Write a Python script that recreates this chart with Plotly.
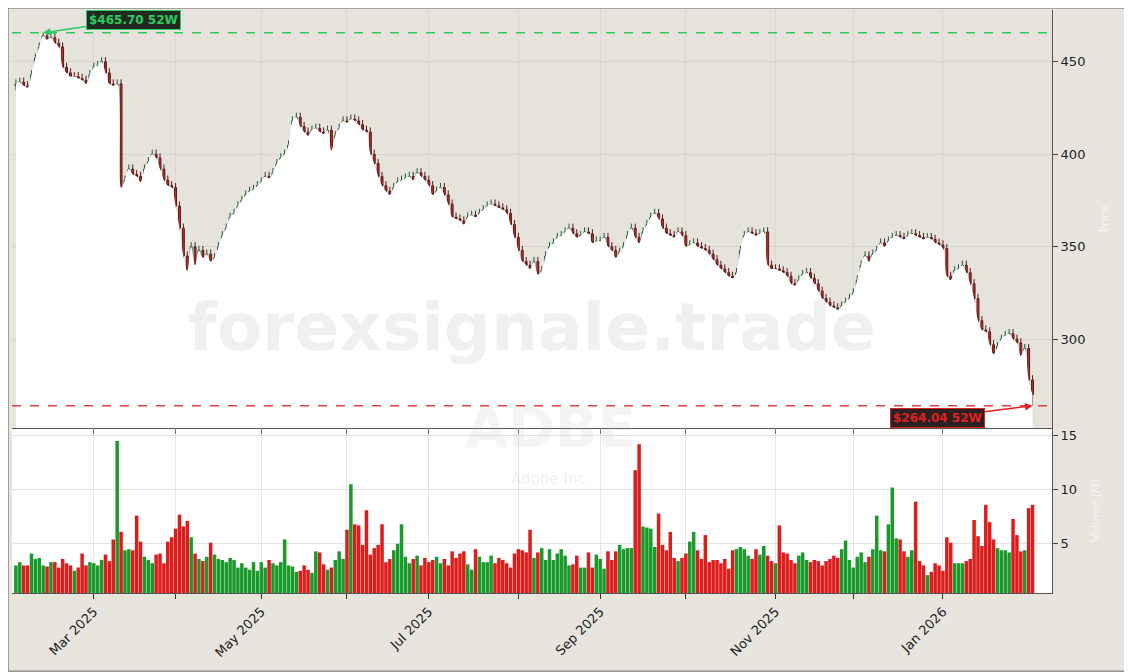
import pandas as pd
import plotly.graph_objects as go
from plotly.subplots import make_subplots

close_feb25 = [438,439,437,436,443,452,458,464,462,463,460,458,447,444,442,442,441,440,438,443]
close_mar25 = [447,448,450,444,438,437,438,382,386,392,389,388,385,392,396,400,398,392,386,383,382]
close_apr25 = [372,360,345,337,350,340,348,344,346,342,344,350,356,360,366,368,372,375,378,380,381,383]
close_may25 = [385,388,387,390,395,398,400,405,418,420,415,412,410,413,414,412,411,413,402,410,414,418]
close_jun25 = [417,419,418,416,413,412,400,395,388,383,380,378,382,385,386,387,388,386,390,388,386]
close_jul25 = [383,378,380,382,378,373,366,365,364,362,366,367,366,368,370,372,373,372,371,370,368,362,355]
close_aug25 = [348,342,340,338,342,335,337,345,350,352,355,356,358,360,357,355,356,358,357,352,353]
close_sep25 = [353,355,350,348,344,347,350,356,360,355,352,358,362,366,368,365,360,357,356,355,358,356]
close_oct25 = [350,351,352,350,349,348,346,343,340,338,336,334,333,336,348,356,358,357,356,357,358,340,338]
close_nov25 = [338,337,336,334,330,329,332,335,336,333,330,326,322,320,318,317,316,318,320,322]
close_dec25 = [325,332,340,345,342,346,348,352,350,353,355,356,355,354,356,357,356,355,354,355,354,352,351]
close_jan26 = [349,334,332,337,338,340,336,330,322,310,305,304,297,292,296,300,302,303,300,298,291,295]
close_feb26 = [278,270]

vol_feb25 = [3.0,3.3,3.0,3.0,4.1,3.6,3.7,3.0,2.9,3.3,3.3,2.8,3.6,3.2,3.0,2.5,2.8,4.1,3.0,3.3]
vol_mar25 = [3.2,3.0,3.5,4.0,3.4,5.4,14.5,6.1,4.4,4.5,4.4,7.6,5.2,3.8,3.5,3.2,4.0,4.1,3.2,5.2,5.6]
vol_apr25 = [6.4,7.7,6.6,7.1,5.6,4.1,3.6,3.4,3.8,5.1,4.0,3.6,3.5,3.3,3.7,3.5,2.8,3.2,2.8,2.6,3.3,2.5]
vol_may25 = [3.3,2.8,3.5,3.2,3.0,3.3,5.4,3.0,2.9,2.4,2.5,3.0,2.6,2.3,4.3,4.2,3.1,2.6,2.8,3.5,4.3,3.6]
vol_jun25 = [6.3,10.5,6.8,6.7,4.9,8.1,4.0,4.6,4.9,6.8,3.3,3.6,4.4,5.0,6.8,3.8,3.2,3.6,3.9,3.0,3.7]
vol_jul25 = [3.3,3.5,3.8,3.2,3.6,3.0,4.3,3.7,4.1,4.3,3.1,2.6,4.5,3.8,3.3,3.3,3.9,3.2,3.7,3.5,3.2,2.8,4.1]
vol_aug25 = [4.5,4.4,4.2,6.3,3.7,4.2,4.6,3.5,4.5,3.5,4.1,4.5,3.9,3.0,3.1,3.9,2.8,2.8,4.2,2.8,4.0]
vol_sep25 = [3.6,2.7,4.3,3.5,4.3,4.9,4.5,4.6,4.6,11.8,14.2,6.6,6.5,6.4,4.7,7.8,4.9,4.4,6.1,3.7,3.4,3.7]
vol_oct25 = [4.1,5.2,6.1,4.4,3.6,5.8,3.3,3.5,3.5,3.2,3.6,2.7,4.4,4.5,4.7,4.5,3.9,3.6,4.5,4.0,4.8,3.9,3.4]
vol_nov25 = [3.2,6.7,4.2,4.1,3.5,3.2,3.9,4.2,3.5,3.3,3.5,3.4,3.0,3.4,3.6,3.9,3.7,4.5,5.3,3.5]
vol_dec25 = [2.8,3.8,4.2,3.3,3.8,4.5,7.6,4.4,4.3,6.8,10.2,5.5,5.4,4.3,3.8,4.4,8.9,3.4,3.0,2.1,2.4,3.2,3.0]
vol_jan26 = [2.5,5.6,5.1,3.2,3.2,3.2,3.4,3.6,7.2,5.7,4.8,8.6,7.0,5.4,4.6,4.4,4.4,4.2,7.3,5.8,4.3,4.4]
vol_feb26 = [8.3,8.6]

high_52w = 465.70
low_52w = 264.04

close = (close_feb25 + close_mar25 + close_apr25 + close_may25 + close_jun25 + close_jul25 +
         close_aug25 + close_sep25 + close_oct25 + close_nov25 + close_dec25 + close_jan26 + close_feb26)
volume = (vol_feb25 + vol_mar25 + vol_apr25 + vol_may25 + vol_jun25 + vol_jul25 +
          vol_aug25 + vol_sep25 + vol_oct25 + vol_nov25 + vol_dec25 + vol_jan26 + vol_feb26)
n = min(len(close), len(volume))
close = close[:n]; volume = volume[:n]
dates = pd.bdate_range("2025-02-03", periods=n)

opens = [close[0] - 1] + close[:-1]
highs = [max(o, c) + 2.5 for o, c in zip(opens, close)]
lows = [min(o, c) - 2.5 for o, c in zip(opens, close)]
ih = max(range(n), key=lambda i: highs[i]); highs[ih] = high_52w
il = min(range(n), key=lambda i: lows[i]); lows[il] = low_52w

vcol = ["#1a9a2a" if c >= o else "#dd1c1c" for o, c in zip(opens, close)]

fig = make_subplots(rows=2, cols=1, shared_xaxes=True, vertical_spacing=0,
                    row_heights=[0.717, 0.283])
fig.add_trace(go.Scatter(x=dates, y=close, mode="lines", line=dict(width=0, shape="spline"),
                         fill="tozeroy", fillcolor="white", hoverinfo="skip", showlegend=False), 1, 1)
fig.add_trace(go.Candlestick(x=dates, open=opens, high=highs, low=lows, close=close,
                             increasing=dict(line=dict(color="#1e5e3a", width=1), fillcolor="#2eaa5e"),
                             decreasing=dict(line=dict(color="#5a1a1a", width=1), fillcolor="#c0302a"),
                             whiskerwidth=0, showlegend=False), 1, 1)
fig.add_trace(go.Bar(x=dates, y=volume, marker=dict(color=vcol, line=dict(width=0)),
                     showlegend=False), 2, 1)

fig.add_shape(type="rect", xref="paper", yref="y2 domain", x0=0, x1=1, y0=0, y1=1,
              fillcolor="white", line=dict(width=0), layer="below")
fig.add_hline(y=high_52w, line=dict(color="#2ecc60", width=1.5, dash="dash"), row=1, col=1)
fig.add_hline(y=low_52w, line=dict(color="#e04040", width=1.5, dash="dash"), row=1, col=1)

fig.add_annotation(x=dates[ih], y=high_52w, xref="x", yref="y", text="<b>$465.70 52W</b>",
                   showarrow=True, arrowhead=2, arrowcolor="#2ecc60", arrowwidth=1.5,
                   ax=90, ay=-13, font=dict(color="#2ecc60", size=12, family="DejaVu Sans"),
                   bgcolor="#1f2b22", bordercolor="#2ecc60", borderwidth=1, borderpad=2)
fig.add_annotation(x=dates[il], y=low_52w, xref="x", yref="y", text="<b>$264.04 52W</b>",
                   showarrow=True, arrowhead=2, arrowcolor="#e02020", arrowwidth=1.5,
                   ax=-95, ay=12, font=dict(color="#e02020", size=12, family="DejaVu Sans"),
                   bgcolor="#2a2222", bordercolor="#e02020", borderwidth=1, borderpad=2)

fig.add_annotation(xref="paper", yref="paper", x=0.5, y=0.456, text="<b>forexsignale.trade</b>",
                   showarrow=False, font=dict(size=66, color="rgba(180,180,180,0.2)", family="DejaVu Sans"))
fig.add_annotation(xref="paper", yref="paper", x=0.518, y=0.225, text="<b>ADBE</b>",
                   showarrow=False, font=dict(size=56, color="rgba(180,180,180,0.15)", family="DejaVu Sans"))
fig.add_annotation(xref="paper", yref="paper", x=0.518, y=0.177, text="Adobe Inc.",
                   showarrow=False, font=dict(size=15, color="rgba(180,180,180,0.2)", family="DejaVu Sans"))

months = pd.date_range("2025-03-01", "2026-02-01", freq="BMS")
ticktext = [m.strftime("%b %Y") if i % 2 == 0 else "" for i, m in enumerate(months)]
xr = [pd.Timestamp("2025-02-02"), pd.Timestamp("2026-02-10")]
for r in (1, 2):
    fig.update_xaxes(range=xr, tickvals=list(months), ticktext=ticktext, showgrid=True,
                     gridcolor="rgba(200,200,200,0.45)", ticks="outside", ticklen=5,
                     tickcolor="#333", rangeslider_visible=False, row=r, col=1,
                     rangebreaks=[dict(bounds=["sat", "mon"])], automargin=False,
                     linecolor="#555", showline=True, mirror=False)
fig.update_xaxes(tickangle=-45, tickfont=dict(size=13, color="#222"), row=2, col=1)
fig.update_yaxes(side="right", range=[252, 478], tickvals=[300, 350, 400, 450], ticks="outside",
                 ticklen=5, gridcolor="rgba(200,200,200,0.5)", showline=True, linecolor="#555",
                 automargin=False,
                 tickfont=dict(size=13, color="#222"), title=dict(text="Price", font=dict(color="rgba(255,255,255,0.6)", size=11)),
                 row=1, col=1)
fig.update_yaxes(side="right", range=[0.45, 15.7], tickvals=[5, 10, 15], ticks="outside",
                 ticklen=5, gridcolor="rgba(200,200,200,0.5)", showline=True, linecolor="#555",
                 automargin=False,
                 tickfont=dict(size=13, color="#222"), title=dict(text="Volume (M)", font=dict(color="rgba(255,255,255,0.6)", size=11)),
                 row=2, col=1)

fig.add_shape(type="rect", xref="paper", yref="paper", x0=-0.0038, x1=1.076, y0=-0.134, y1=1.0034,
              line=dict(color="#666", width=1), fillcolor="rgba(0,0,0,0)", layer="below")

fig.update_layout(width=1132, height=672, margin=dict(l=4, r=88, t=2, b=87, autoexpand=False),
                  paper_bgcolor="#e8e5df", plot_bgcolor="#e6e3dd", bargap=0.1,
                  font=dict(family="DejaVu Sans"), showlegend=False)
fig.write_html("out.html")
